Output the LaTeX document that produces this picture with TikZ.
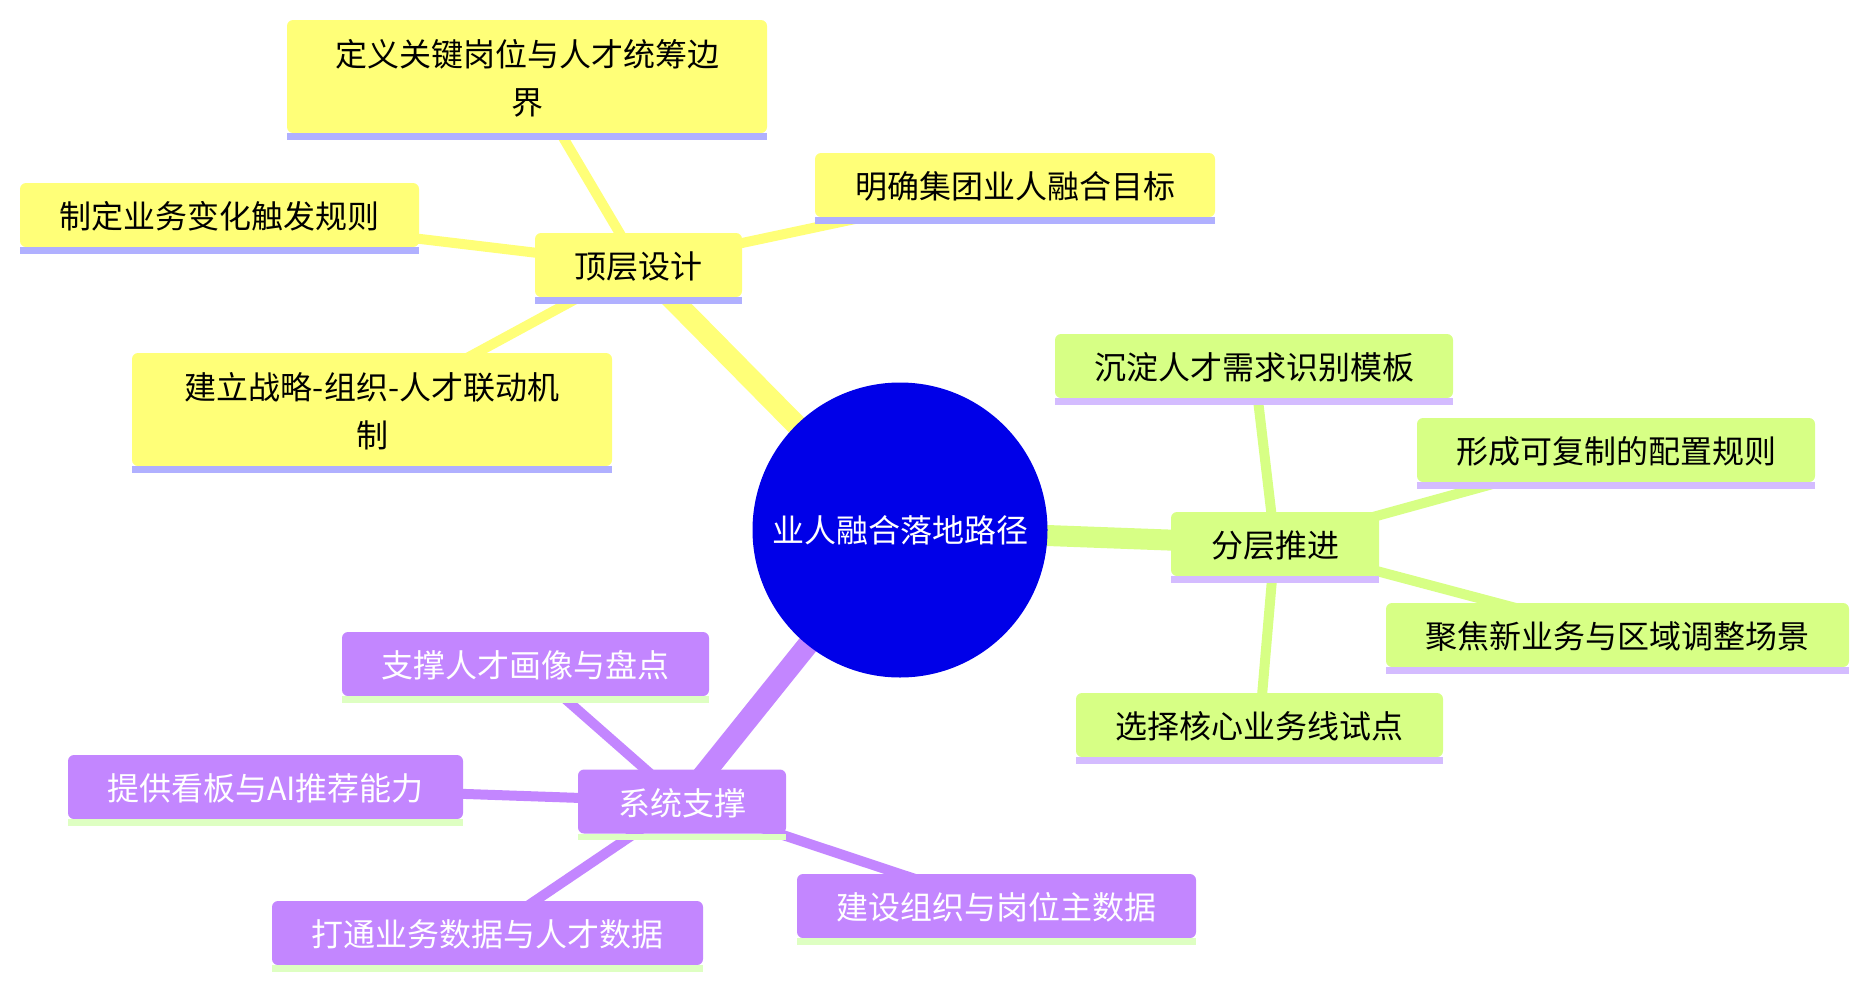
\documentclass[tikz,border=0pt]{standalone}
\usepackage{fontspec}
\setmainfont{Noto Sans CJK SC}
\usetikzlibrary{backgrounds}
\definecolor{yF}{HTML}{FFFF78}
\definecolor{yU}{HTML}{B0B0FF}
\definecolor{gF}{HTML}{D7FF85}
\definecolor{gU}{HTML}{D4BCFF}
\definecolor{pF}{HTML}{C386FF}
\definecolor{pU}{HTML}{DEFFC2}
\definecolor{rootB}{HTML}{0000E8}
\newcommand\ulbar[2]{\fill[#2] (#1.south west) rectangle ([yshift=-6.5pt]#1.south east);}
\begin{document}
\begin{tikzpicture}[x=1pt,y=-1pt,
  box/.style={rounded corners=6pt, inner sep=0pt, align=center, text depth=0pt, font=\fontsize{32}{48}\selectfont},
  wh/.style 2 args={minimum width=#1pt, minimum height=#2pt},
  ybox/.style={box, fill=yF, text=black},
  gbox/.style={box, fill=gF, text=black},
  pbox/.style={box, fill=pF, text=white},
  rootedge/.style={line width=21pt},
  childedge/.style={line width=10pt}]
\useasboundingbox (0,0) rectangle (1869,988);

\node[circle, fill=rootB, minimum size=295pt, inner sep=0pt, text=white, font=\fontsize{32}{48}\selectfont] (root) at (900,530) {业人融合落地路径};

\node[ybox, wh={207}{64}] (top) at (638.5,265) {顶层设计};
\node[ybox, wh={480}{113}] (y1) at (527,76.5) {定义关键岗位与人才统筹边\\界};
\node[ybox, wh={400}{64}] (y2) at (1015,185) {明确集团业人融合目标};
\node[ybox, wh={399}{64}] (y3) at (219.5,215) {制定业务变化触发规则};
\node[ybox, wh={480}{113}] (y4) at (372,409.5) {建立战略-组织-人才联动机\\制};

\node[gbox, wh={208}{64}] (mid) at (1275,544) {分层推进};
\node[gbox, wh={398}{64}] (g1) at (1254,366) {沉淀人才需求识别模板};
\node[gbox, wh={398}{64}] (g2) at (1616,450) {形成可复制的配置规则};
\node[gbox, wh={463}{64}] (g3) at (1617.5,635) {聚焦新业务与区域调整场景};
\node[gbox, wh={367}{64}] (g4) at (1259.5,725) {选择核心业务线试点};

\node[pbox, wh={208}{64}] (bot) at (682,801.5) {系统支撑};
\node[pbox, wh={367}{64}] (p1) at (525.5,664) {支撑人才画像与盘点};
\node[pbox, wh={395}{64}] (p2) at (265.5,787) {提供看板与AI推荐能力};
\node[pbox, wh={431}{64}] (p3) at (487.5,933) {打通业务数据与人才数据};
\node[pbox, wh={399}{64}] (p4) at (996.5,906) {建设组织与岗位主数据};

\foreach \n in {top,y1,y2,y3,y4}{\ulbar{\n}{yU}}
\foreach \n in {mid,g1,g2,g3,g4}{\ulbar{\n}{gU}}
\foreach \n in {bot,p1,p2,p3,p4}{\ulbar{\n}{pU}}

\begin{scope}[on background layer]
  \draw[rootedge, yF] (root.center) -- (top.center);
  \draw[rootedge, gF] (root.center) -- (mid.center);
  \draw[rootedge, pF] (root.center) -- (bot.center);
  \foreach \n in {y1,y2,y3,y4}{\draw[childedge, yF] (top.center) -- (\n.center);}
  \foreach \n in {g1,g2,g3,g4}{\draw[childedge, gF] (mid.center) -- (\n.center);}
  \foreach \n in {p1,p2,p3,p4}{\draw[childedge, pF] (bot.center) -- (\n.center);}
\end{scope}
\end{tikzpicture}
\end{document}
